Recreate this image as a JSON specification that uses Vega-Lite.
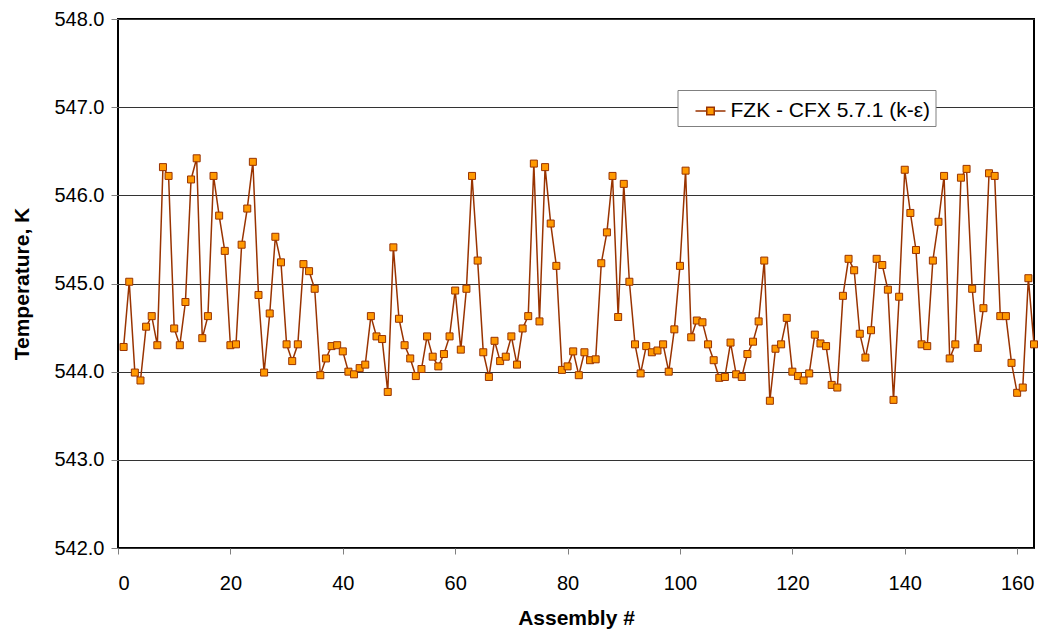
{
  "$schema": "https://vega.github.io/schema/vega-lite/v6.json",
  "width": 916,
  "height": 529,
  "autosize": "none",
  "padding": {"left": 118, "top": 19, "right": 10, "bottom": 87},
  "background": "white",
  "config": {"view": {"stroke": "#000", "strokeWidth": 2}, "font": "Liberation Sans"},
  "data": {"values": [
    {"n":1,"T":544.28},{"n":2,"T":545.02},{"n":3,"T":543.99},{"n":4,"T":543.90},{"n":5,"T":544.51},
    {"n":6,"T":544.63},{"n":7,"T":544.30},{"n":8,"T":546.32},{"n":9,"T":546.22},{"n":10,"T":544.49},
    {"n":11,"T":544.30},{"n":12,"T":544.79},{"n":13,"T":546.18},{"n":14,"T":546.42},{"n":15,"T":544.38},
    {"n":16,"T":544.63},{"n":17,"T":546.22},{"n":18,"T":545.77},{"n":19,"T":545.37},{"n":20,"T":544.30},
    {"n":21,"T":544.31},{"n":22,"T":545.44},{"n":23,"T":545.85},{"n":24,"T":546.38},{"n":25,"T":544.87},
    {"n":26,"T":543.99},{"n":27,"T":544.66},{"n":28,"T":545.53},{"n":29,"T":545.24},{"n":30,"T":544.31},
    {"n":31,"T":544.12},{"n":32,"T":544.31},{"n":33,"T":545.22},{"n":34,"T":545.14},{"n":35,"T":544.94},
    {"n":36,"T":543.96},{"n":37,"T":544.15},{"n":38,"T":544.29},{"n":39,"T":544.30},{"n":40,"T":544.23},
    {"n":41,"T":544.00},{"n":42,"T":543.97},{"n":43,"T":544.04},{"n":44,"T":544.08},{"n":45,"T":544.63},
    {"n":46,"T":544.40},{"n":47,"T":544.37},{"n":48,"T":543.77},{"n":49,"T":545.41},{"n":50,"T":544.60},
    {"n":51,"T":544.30},{"n":52,"T":544.15},{"n":53,"T":543.95},{"n":54,"T":544.03},{"n":55,"T":544.40},
    {"n":56,"T":544.17},{"n":57,"T":544.06},{"n":58,"T":544.20},{"n":59,"T":544.40},{"n":60,"T":544.92},
    {"n":61,"T":544.25},{"n":62,"T":544.94},{"n":63,"T":546.22},{"n":64,"T":545.26},{"n":65,"T":544.22},
    {"n":66,"T":543.94},{"n":67,"T":544.35},{"n":68,"T":544.12},{"n":69,"T":544.17},{"n":70,"T":544.40},
    {"n":71,"T":544.08},{"n":72,"T":544.49},{"n":73,"T":544.63},{"n":74,"T":546.36},{"n":75,"T":544.57},
    {"n":76,"T":546.32},{"n":77,"T":545.68},{"n":78,"T":545.20},{"n":79,"T":544.02},{"n":80,"T":544.06},
    {"n":81,"T":544.23},{"n":82,"T":543.96},{"n":83,"T":544.22},{"n":84,"T":544.13},{"n":85,"T":544.14},
    {"n":86,"T":545.23},{"n":87,"T":545.58},{"n":88,"T":546.22},{"n":89,"T":544.62},{"n":90,"T":546.13},
    {"n":91,"T":545.02},{"n":92,"T":544.31},{"n":93,"T":543.98},{"n":94,"T":544.29},{"n":95,"T":544.22},
    {"n":96,"T":544.24},{"n":97,"T":544.31},{"n":98,"T":544.00},{"n":99,"T":544.48},{"n":100,"T":545.20},
    {"n":101,"T":546.28},{"n":102,"T":544.39},{"n":103,"T":544.58},{"n":104,"T":544.56},{"n":105,"T":544.31},
    {"n":106,"T":544.13},{"n":107,"T":543.93},{"n":108,"T":543.94},{"n":109,"T":544.33},{"n":110,"T":543.97},
    {"n":111,"T":543.94},{"n":112,"T":544.20},{"n":113,"T":544.34},{"n":114,"T":544.57},{"n":115,"T":545.26},
    {"n":116,"T":543.67},{"n":117,"T":544.26},{"n":118,"T":544.31},{"n":119,"T":544.61},{"n":120,"T":544.00},
    {"n":121,"T":543.95},{"n":122,"T":543.90},{"n":123,"T":543.98},{"n":124,"T":544.42},{"n":125,"T":544.32},
    {"n":126,"T":544.29},{"n":127,"T":543.85},{"n":128,"T":543.82},{"n":129,"T":544.86},{"n":130,"T":545.28},
    {"n":131,"T":545.15},{"n":132,"T":544.43},{"n":133,"T":544.16},{"n":134,"T":544.47},{"n":135,"T":545.28},
    {"n":136,"T":545.21},{"n":137,"T":544.93},{"n":138,"T":543.68},{"n":139,"T":544.85},{"n":140,"T":546.29},
    {"n":141,"T":545.80},{"n":142,"T":545.38},{"n":143,"T":544.31},{"n":144,"T":544.29},{"n":145,"T":545.26},
    {"n":146,"T":545.70},{"n":147,"T":546.22},{"n":148,"T":544.15},{"n":149,"T":544.31},{"n":150,"T":546.20},
    {"n":151,"T":546.30},{"n":152,"T":544.94},{"n":153,"T":544.27},{"n":154,"T":544.72},{"n":155,"T":546.25},
    {"n":156,"T":546.22},{"n":157,"T":544.63},{"n":158,"T":544.63},{"n":159,"T":544.10},{"n":160,"T":543.76},
    {"n":161,"T":543.82},{"n":162,"T":545.06},{"n":163,"T":544.31}
  ]},
  "layer": [
    {
      "mark": {"type": "line", "strokeWidth": 1.5},
      "encoding": {
        "x": {"field": "n", "type": "quantitative",
          "scale": {"domain": [0, 163], "nice": false, "zero": false},
          "axis": {"values": [0,20,40,60,80,100,120,140,160], "title": "Assembly #", "grid": false, "domain": false,
            "labelFontSize": 20, "labelColor": "#000", "tickColor": "#808080", "tickSize": 6, "labelPadding": 19,
            "titleFontSize": 21, "titleFontWeight": "bold", "titleColor": "#000", "titleBaseline": "alphabetic", "titleY": 76}},
        "y": {"field": "T", "type": "quantitative",
          "scale": {"domain": [542, 548], "nice": false, "zero": false},
          "axis": {"values": [542,543,544,545,546,547,548], "format": ".1f", "title": "Temperature, K", "grid": true,
            "gridColor": "#333", "gridWidth": 1, "domain": false,
            "labelFontSize": 20, "labelColor": "#000", "tickColor": "#808080", "tickSize": 7, "labelPadding": 7,
            "titleFontSize": 21, "titleFontWeight": "bold", "titleColor": "#000", "titleBaseline": "middle", "titleX": -96, "titleY": 264.5}},
        "color": {"datum": "FZK - CFX 5.7.1 (k-ε)", "scale": {"range": ["#993300"]},
          "legend": {"orient": "none", "legendX": 559.5, "legendY": 71, "title": null,
            "labelFontSize": 21, "labelColor": "#000", "labelLimit": 400, "padding": 5, "strokeColor": "#808080", "fillColor": "#fff",
            "symbolType": "M-1,0H-0.25M0.25,0H1M-0.25,-0.25H0.25V0.25H-0.25Z", "symbolSize": 900, "symbolStrokeWidth": 1.5,
            "symbolOffset": 12, "labelOffset": 4,
            "encode": {"symbols": {"update": {"fill": {"value": "#FF9900"}, "stroke": {"value": "#993300"}}}}}}
      }
    },
    {
      "mark": {"type": "point", "shape": "square", "filled": true, "fill": "#FF9900", "stroke": "#993300", "strokeWidth": 1, "size": 49, "opacity": 1},
      "encoding": {
        "x": {"field": "n", "type": "quantitative"},
        "y": {"field": "T", "type": "quantitative"}
      }
    }
  ]
}
